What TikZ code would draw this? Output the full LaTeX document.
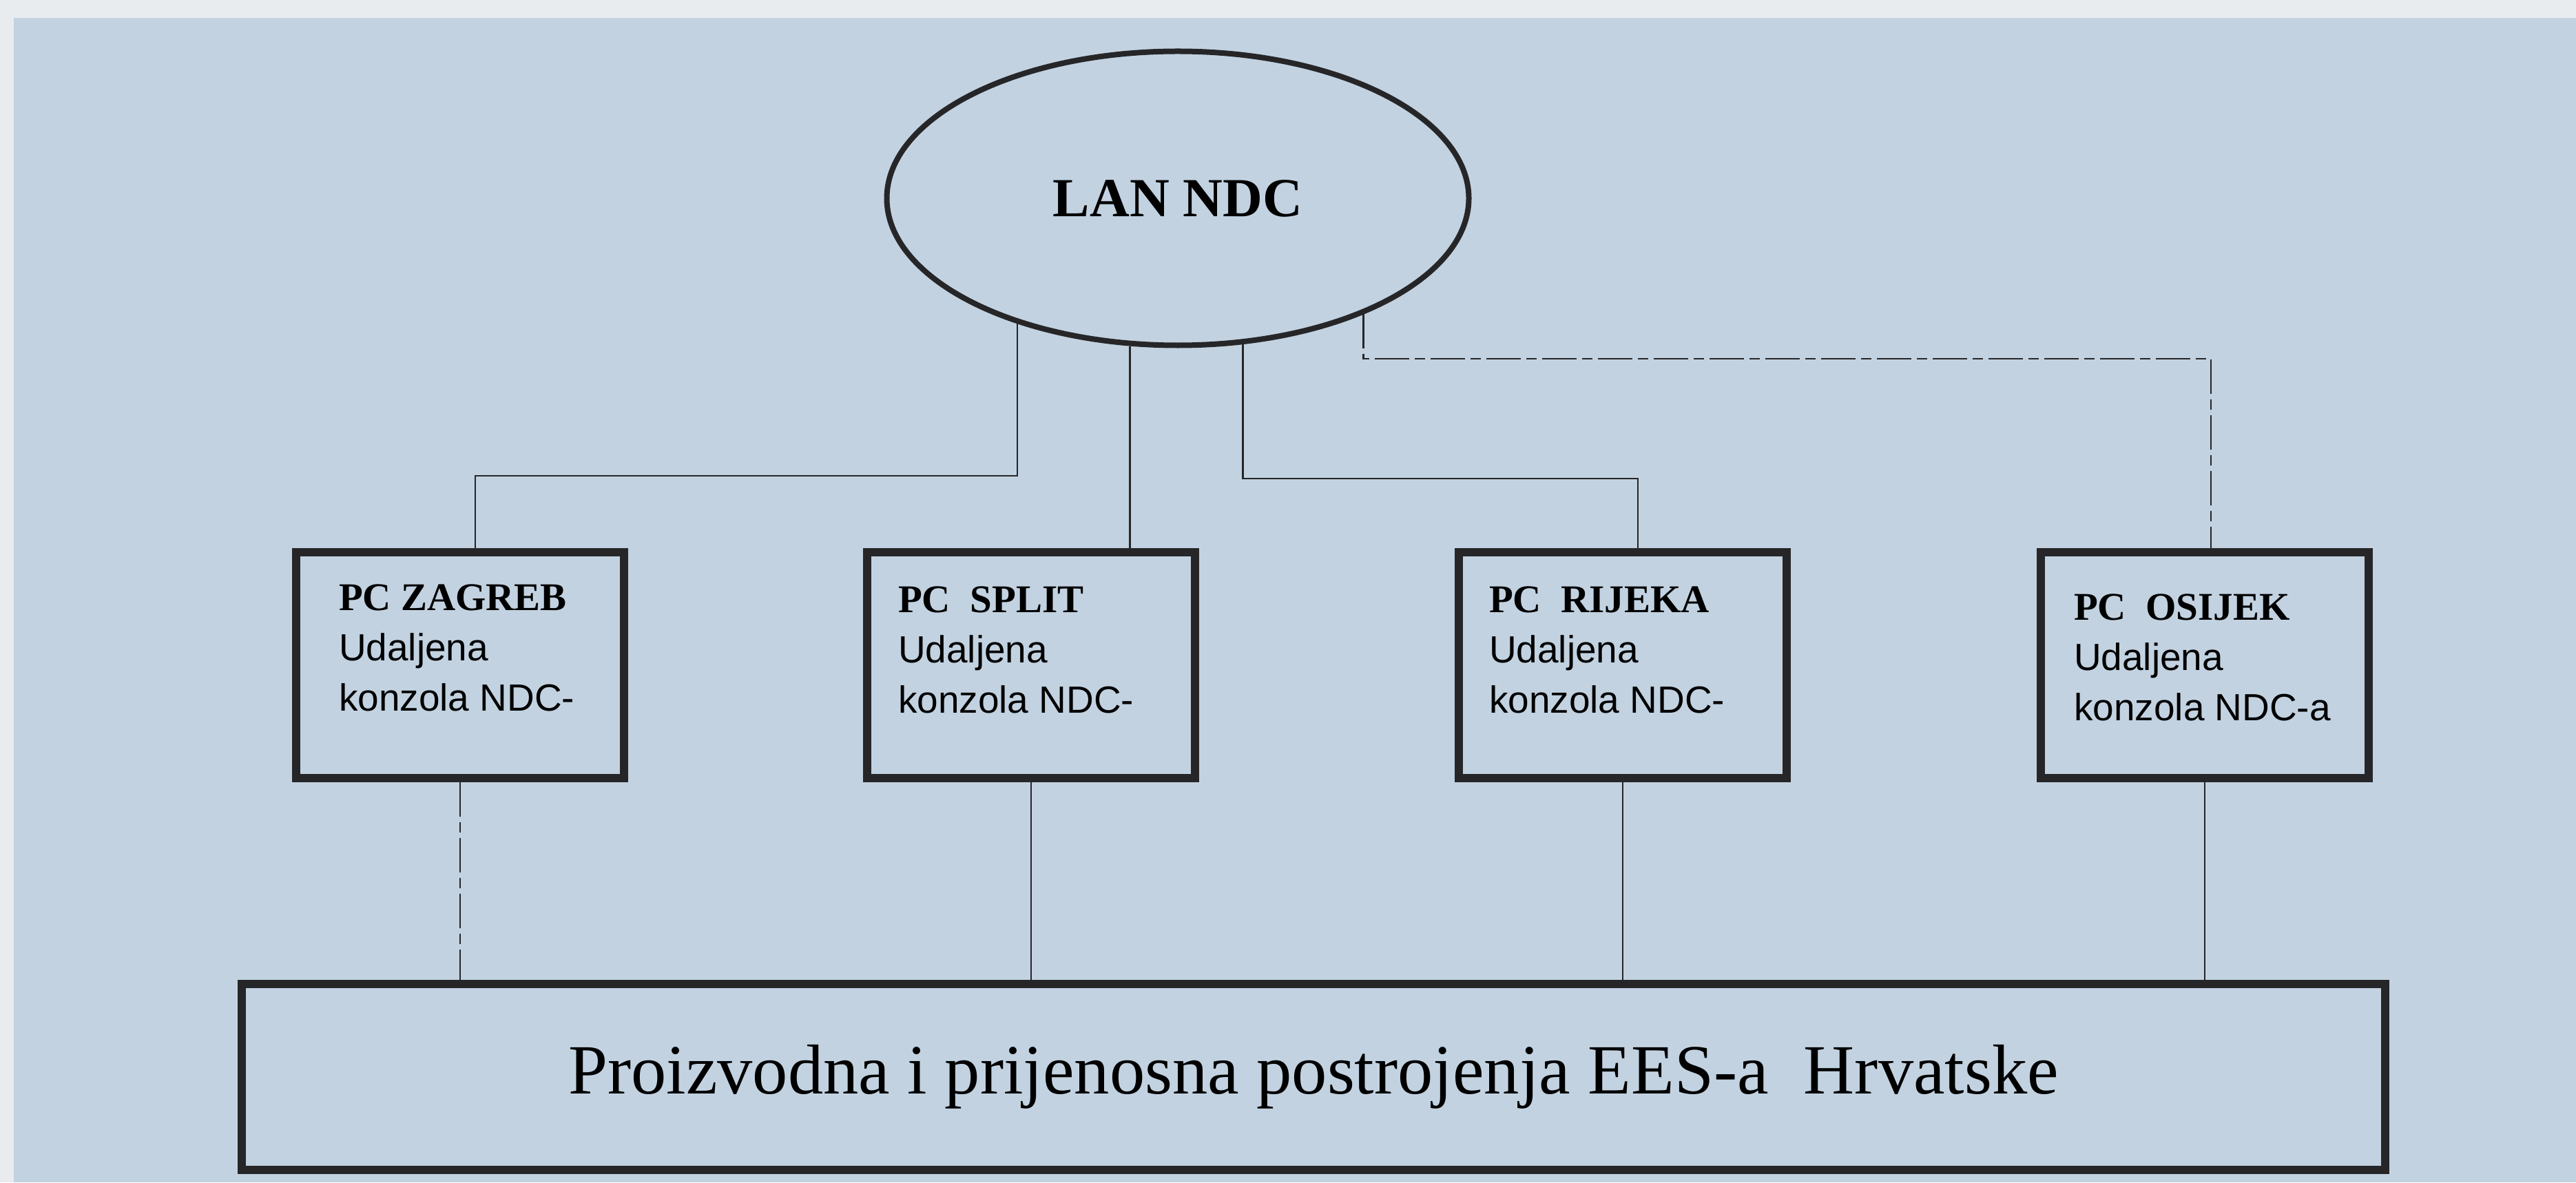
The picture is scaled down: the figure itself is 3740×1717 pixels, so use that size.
\documentclass[tikz,border=0pt]{standalone}
\usepackage{fontspec}
\setmainfont{Liberation Serif}
\setsansfont{Liberation Sans}
\usepackage{tikz}
\usetikzlibrary{shapes.geometric,positioning}

\definecolor{scanblue}{RGB}{194,210,225}
\definecolor{scanpaper}{RGB}{233,236,239}
\definecolor{ink}{RGB}{38,38,40}

\newcommand{\pctitle}{\fontsize{11.4}{14.6}\selectfont\rmfamily\bfseries}
\newcommand{\pcbody}{\fontsize{11}{14.6}\selectfont\sffamily\mdseries}

\begin{document}
\begin{tikzpicture}[x=0.2pt,y=-0.2pt]

\tikzset{lannode/.style={ellipse, draw=ink, line width=1.6pt, minimum width=169pt, minimum height=85.4pt, inner sep=0pt, font=\fontsize{16}{19}\selectfont\bfseries},
  pcbox/.style={draw=ink, line width=2.4pt, minimum width=95.2pt, minimum height=65.6pt, inner sep=0pt},
  pctext/.style={anchor=north west, inner sep=0pt, align=left, font=\fontsize{11}{14.6}\selectfont},
  plantbox/.style={draw=ink, line width=2.4pt, minimum width=622.2pt, minimum height=54pt, inner sep=0pt, font=\fontsize{20.5}{24}\selectfont},
  link/.style={draw=ink, line width=0.5pt},
  brokenlink/.style={link, dash pattern=on 10pt off 1.6pt on 3pt off 1.6pt}}

\useasboundingbox (0,0) rectangle (3740,1717);
\fill[scanblue] (0,0) rectangle (3740,1717);
\fill[scanpaper] (0,0) rectangle (3740,26);
\fill[scanpaper] (0,0) rectangle (20,1717);

\node[lannode] (lan) at (1710,288) {LAN NDC};

\node[pcbox] (zagreb) at (668,966) {};
\node[pcbox] (split) at (1497,966) {};
\node[pcbox] (rijeka) at (2356,966) {};
\node[pcbox] (osijek) at (3201,966) {};

\node[pctext] (zagrebtxt) at (491,848) {\pctitle PC ZAGREB\\ \pcbody Udaljena\\ \pcbody konzola NDC-};
\node[pctext] (splittxt) at (1303,851) {\pctitle PC\ \ SPLIT\\ \pcbody Udaljena\\ \pcbody konzola NDC-};
\node[pctext] (rijekatxt) at (2161,851) {\pctitle PC\ \ RIJEKA\\ \pcbody Udaljena\\ \pcbody konzola NDC-};
\node[pctext] (osijektxt) at (3010,862) {\pctitle PC\ \ OSIJEK\\ \pcbody Udaljena\\ \pcbody konzola NDC-a};

\node[plantbox] (plants) at (1907,1564) {Proizvodna i prijenosna postrojenja EES-a\ \ Hrvatske};

\coordinate (kzag) at (690,691);
\coordinate (krij) at (2378,695);
\coordinate (kosi) at (3210,521);

\draw[link] (lan.218) |- (kzag) -- (kzag |- zagreb.north);
\draw[link] (lan.252) -- (lan.252 |- split.north);
\draw[link] (lan.294) |- (krij) -- (krij |- rijeka.north);
\draw[brokenlink] (lan.328) |- (kosi) -- (kosi |- osijek.north);

\foreach \pc/\ls in {zagreb/brokenlink, split/link, rijeka/link, osijek/link}
  \draw[\ls] (\pc.south) -- (\pc.south |- plants.north);

\end{tikzpicture}
\end{document}
